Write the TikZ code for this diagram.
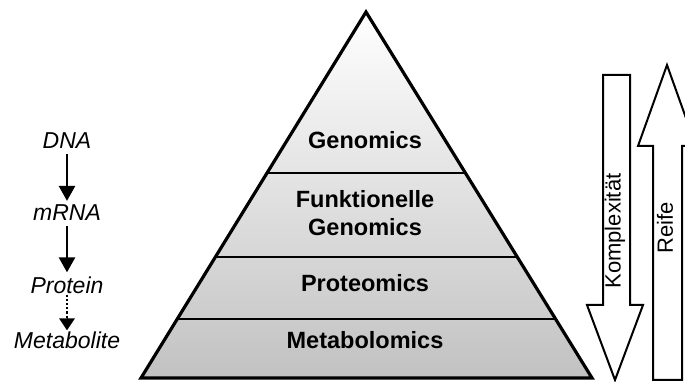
\documentclass[tikz,border=0pt]{standalone}
\usepackage{fontspec}
\setmainfont{Liberation Sans}
\usetikzlibrary{arrows.meta,calc}
\begin{document}
\begin{tikzpicture}[x=1pt,y=1pt,
  layer/.style={font=\bfseries\fontsize{23.5}{27.5}\selectfont, align=center, inner sep=0pt},
  flow/.style={font=\itshape\fontsize{23}{26}\selectfont, inner sep=0pt},
  flowarrow/.style={line width=2.6pt, -{Triangle[width=16pt,length=15pt]}},
  bigarrow/.style={draw=black, line width=2pt, fill=white, line join=miter},
  vlabel/.style={font=\fontsize{22}{26}\selectfont, rotate=90, inner sep=0pt}
]
\useasboundingbox (0,0) rectangle (685,382);
\begin{scope}
\clip (0,0) rectangle (685,382);
% pyramid
\coordinate (apex) at (366,370);
\coordinate (bl) at (141,4);
\coordinate (br) at (592,4);
\shade[top color=white, bottom color=black!24] (apex) -- (br) -- (bl) -- cycle;
\foreach \yy in {209,125,63}{
  \draw[line width=2.2pt] ($(apex)!{(370-\yy)/366}!(bl)$) -- ($(apex)!{(370-\yy)/366}!(br)$);
}
\draw[line width=3.2pt, line join=miter] (apex) -- (br) -- (bl) -- cycle;
\node[layer] (gen) at (365,242) {Genomics};
\node[layer] (fgen) at (365,169) {Funktionelle\\Genomics};
\node[layer] (prot) at (365,99) {Proteomics};
\node[layer] (meta) at (365,42) {Metabolomics};
% left flow
\node[flow] (dna) at (67,241.5) {DNA};
\node[flow] (mrna) at (67,169) {mRNA};
\node[flow] (protein) at (67,97) {Protein};
\node[flow] (metab) at (67,42) {Metabolite};
\draw[flowarrow] ($(dna.south)+(0,-5)$) -- ($(mrna.north)+(0,4)$);
\draw[flowarrow] ($(mrna.south)+(0,-5)$) -- ($(protein.north)+(0,4)$);
\draw[line width=2.2pt, dotted] ($(protein.south)+(0,-1)$) -- ($(metab.north)+(0,13)$);
\draw[line width=0pt, -{Triangle[width=16pt,length=12pt]}] ($(metab.north)+(0,13)$) -- ($(metab.north)+(0,1)$);
% right arrows
\draw[bigarrow] (603,307) -- (630,307) -- (630,77) -- (643,77) -- (615,2) -- (587,77) -- (603,77) -- cycle;
\node[vlabel] (kompl) at (615,151) {Komplexität};
\draw[bigarrow] (653,2) -- (682,2) -- (682,236) -- (696,236) -- (667,317) -- (638,236) -- (653,236) -- cycle;
\node[vlabel] (reife) at (665,154) {Reife};
\end{scope}
\end{tikzpicture}
\end{document}
